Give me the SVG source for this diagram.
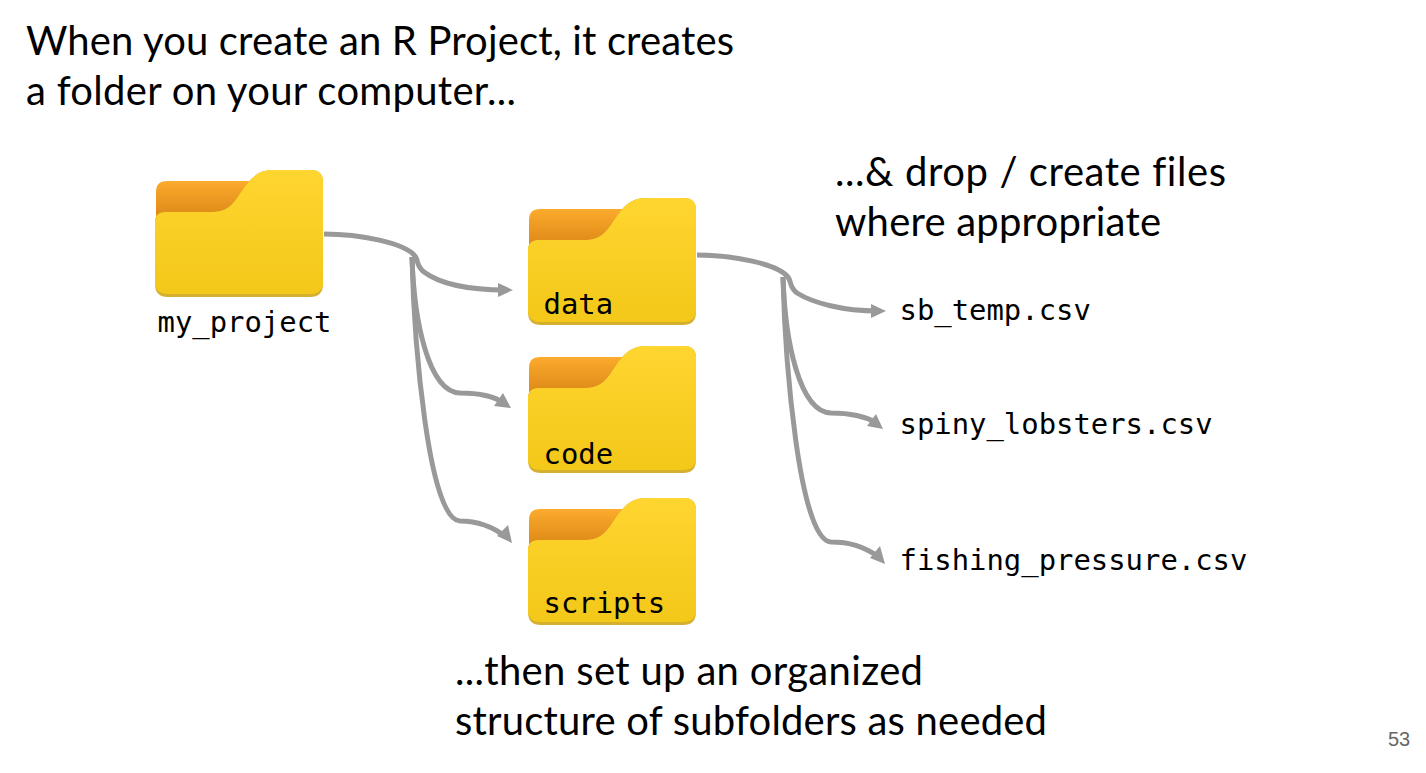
<svg xmlns="http://www.w3.org/2000/svg" width="1426" height="773" viewBox="0 0 1426 773">
<style>
.h{font-family:"Lato","Noto Sans",sans-serif;font-size:40px;fill:#000;font-variant-ligatures:none}
.m{font-family:"DejaVu Sans Mono","Liberation Mono",monospace;font-size:28.9px;fill:#000}
.n{font-family:"Liberation Sans",Arial,sans-serif;font-size:20px;fill:#666}
.c{fill:none;stroke:#999;stroke-width:5;stroke-linecap:butt}
.ah{fill:#999}
</style>
<defs>
<linearGradient id="gb" x1="0" y1="0" x2="0" y2="1"><stop offset="0" stop-color="#fbab2c"/><stop offset="0.55" stop-color="#df8c1a"/></linearGradient>
<linearGradient id="gf" x1="0" y1="0" x2="0" y2="1"><stop offset="0" stop-color="#ffd530"/><stop offset="1" stop-color="#f3c819"/></linearGradient>
<g id="folder">
<path d="M156 192Q156 181 167 181H250V240H156Z" fill="url(#gb)"/>
<path d="M155 222Q155 212 166 212H213C232 212 236 198 247 184Q257 170 272 170H311Q323 170 323 182V284Q323 297 310 297H168Q155 297 155 284Z" fill="#d5b02e"/>
<path d="M155 222Q155 212 166 212H213C232 212 236 198 247 184Q257 170 272 170H311Q323 170 323 182V282Q323 294 310 294H168Q155 294 155 282Z" fill="url(#gf)"/>
</g>
</defs>
<text class="h" x="26" y="55" textLength="708">When you create an R Project, it creates</text>
<text class="h" x="26" y="105" textLength="490">a folder on your computer...</text>
<text class="h" x="835" y="186" textLength="391">...&amp; drop / create files</text>
<text class="h" x="835" y="236" textLength="326">where appropriate</text>
<text class="h" x="455" y="685" textLength="468">...then set up an organized</text>
<text class="h" x="455" y="735" textLength="592">structure of subfolders as needed</text>
<g id="connectors">
<path class="c" d="M324 234C360 234 405 243 415 256C419 262 416 266 424 272C440 284 470 290 505 290"/>
<path class="c" d="M412 257C414 320 428 392 460 393C478 393 492 395 504 403"/>
<path class="c" d="M412 257C414 340 428 520 460 521C478 521 492 526 506 537"/>
<path class="c" d="M697 255C733 255 778 264 788 277C792 283 789 287 797 293C813 303 843 311 878 311"/>
<path class="c" d="M783 277C785 340 799 412 831 413C849 413 863 415 877 423"/>
<path class="c" d="M783 277C785 360 799 541 831 542C849 542 863 546 879 557"/>
<polygon class="ah" points="513,290 498,283 498,297"/>
<polygon class="ah" points="511,408 494,406 503,393"/>
<polygon class="ah" points="512,543 497,536 508,525"/>
<polygon class="ah" points="886,311 871,304 871,318"/>
<polygon class="ah" points="883,429 867,426 876,414"/>
<polygon class="ah" points="885,564 870,558 880,546"/>
</g>
<g id="my_project"><use href="#folder"/><text class="m" x="157.5" y="332">my_project</text></g>
<g id="data"><use href="#folder" x="373" y="28"/><text class="m" x="543.5" y="314">data</text></g>
<g id="code"><use href="#folder" x="373" y="176"/><text class="m" x="543.5" y="464">code</text></g>
<g id="scripts"><use href="#folder" x="373" y="328"/><text class="m" x="543.5" y="613">scripts</text></g>
<g id="sb_temp"><text class="m" x="899.5" y="320">sb_temp.csv</text></g>
<g id="spiny_lobsters"><text class="m" x="899.5" y="434">spiny_lobsters.csv</text></g>
<g id="fishing_pressure"><text class="m" x="899.5" y="570">fishing_pressure.csv</text></g>
<text class="n" x="1388" y="746">53</text>
</svg>
